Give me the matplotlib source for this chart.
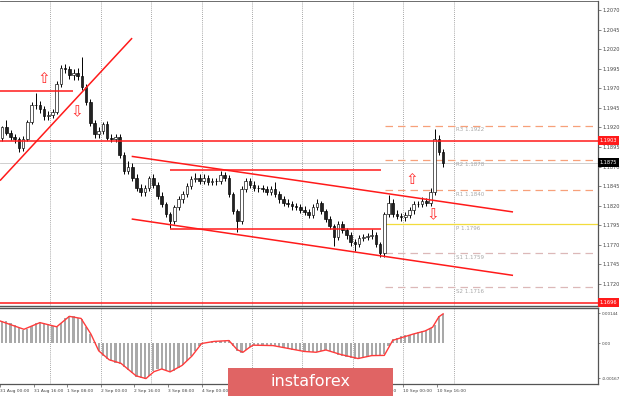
import matplotlib
matplotlib.use("Agg")
import matplotlib.pyplot as plt
import matplotlib.transforms as mtransforms
from matplotlib.patches import Rectangle

# ---------------- data (2-hour bars from 31 Aug 00:00, x in trading hours) ----------------
first_open = 1.1907
bar_close = [
    1.1920, 1.1913, 1.1908, 1.1905, 1.1894, 1.1905, 1.1927, 1.1949, 1.1948, 1.1943,
    1.1934, 1.1936, 1.1940, 1.1975, 1.1996, 1.1994, 1.1987, 1.1990, 1.1985, 1.1971,
    1.1953, 1.1926, 1.1911, 1.1916, 1.1924, 1.1907, 1.1905, 1.1908, 1.1885, 1.1864,
    1.1869, 1.1856, 1.1843, 1.1837, 1.1843, 1.1855, 1.1847, 1.1833, 1.1822, 1.1809,
    1.1800, 1.1818, 1.1828, 1.1835, 1.1845, 1.1854, 1.1856, 1.1852, 1.1856, 1.1850,
    1.1851, 1.1852, 1.1859, 1.1856, 1.1835, 1.1813, 1.1800, 1.1841, 1.1851, 1.1847,
    1.1843, 1.1842, 1.1841, 1.1838, 1.1841, 1.1835, 1.1828, 1.1824, 1.1822, 1.1819,
    1.1818, 1.1815, 1.1812, 1.1808, 1.1818, 1.1823, 1.1813, 1.1803, 1.1794, 1.1780,
    1.1796, 1.1789, 1.1782, 1.1773, 1.1771, 1.1779, 1.1780, 1.1781, 1.1782, 1.1771,
    1.1759, 1.1809, 1.1824, 1.1810, 1.1807, 1.1805, 1.1808, 1.1814, 1.1822, 1.1822,
    1.1826, 1.1824, 1.1838, 1.1905, 1.1889, 1.1875]
bar_high = [
    1.1922, 1.1930, 1.1917, 1.1912, 1.1908, 1.1909, 1.1930, 1.1953, 1.1964, 1.1954,
    1.1947, 1.1941, 1.1944, 1.1979, 1.2000, 1.2001, 1.1998, 1.1995, 1.1996, 1.2010,
    1.1975, 1.1956, 1.1930, 1.1921, 1.1927, 1.1928, 1.1911, 1.1912, 1.1911, 1.1889,
    1.1877, 1.1874, 1.1860, 1.1848, 1.1847, 1.1858, 1.1860, 1.1850, 1.1837, 1.1825,
    1.1812, 1.1821, 1.1832, 1.1839, 1.1849, 1.1858, 1.1862, 1.1860, 1.1860, 1.1859,
    1.1855, 1.1856, 1.1864, 1.1863, 1.1859, 1.1838, 1.1816, 1.1845, 1.1855, 1.1855,
    1.1851, 1.1847, 1.1846, 1.1845, 1.1845, 1.1850, 1.1839, 1.1832, 1.1828, 1.1826,
    1.1823, 1.1822, 1.1819, 1.1816, 1.1822, 1.1828, 1.1826, 1.1816, 1.1807, 1.1797,
    1.1800, 1.1800, 1.1792, 1.1786, 1.1777, 1.1783, 1.1784, 1.1785, 1.1790, 1.1786,
    1.1774, 1.1812, 1.1834, 1.1828, 1.1814, 1.1811, 1.1812, 1.1818, 1.1826, 1.1826,
    1.1831, 1.1830, 1.1842, 1.1918, 1.1910, 1.1893]
bar_low = [
    1.1903, 1.1910, 1.1904, 1.1900, 1.1889, 1.1890, 1.1902, 1.1924, 1.1944, 1.1939,
    1.1930, 1.1930, 1.1932, 1.1937, 1.1972, 1.1989, 1.1982, 1.1981, 1.1980, 1.1968,
    1.1949, 1.1922, 1.1907, 1.1906, 1.1912, 1.1904, 1.1901, 1.1901, 1.1881, 1.1860,
    1.1860, 1.1852, 1.1839, 1.1833, 1.1832, 1.1839, 1.1843, 1.1829, 1.1818, 1.1805,
    1.1792, 1.1796, 1.1814, 1.1824, 1.1831, 1.1841, 1.1850, 1.1848, 1.1848, 1.1846,
    1.1846, 1.1847, 1.1848, 1.1852, 1.1831, 1.1809, 1.1786, 1.1796, 1.1837, 1.1843,
    1.1839, 1.1838, 1.1837, 1.1834, 1.1834, 1.1831, 1.1824, 1.1820, 1.1818, 1.1815,
    1.1814, 1.1811, 1.1808, 1.1804, 1.1804, 1.1814, 1.1809, 1.1799, 1.1790, 1.1768,
    1.1776, 1.1785, 1.1778, 1.1769, 1.1762, 1.1767, 1.1775, 1.1776, 1.1777, 1.1767,
    1.1755, 1.1755, 1.1805, 1.1806, 1.1803, 1.1801, 1.1801, 1.1804, 1.1810, 1.1818,
    1.1818, 1.1820, 1.1820, 1.1834, 1.1885, 1.1870]

# MACD histogram per 2h bar, in units of 1e-5
macd_hist = [
    110, 110, 100, 88, 75, 63, 70, 83, 96, 105,
    100, 92, 85, 78, 98, 122, 134, 130, 124, 116,
    80, 45, 5, -38, -58, -76, -86, -92, -96, -112,
    -126, -142, -162, -167, -170, -155, -133, -124, -121, -128,
    -138, -130, -118, -104, -82, -62, -38, -12, 4, 7,
    10, 12, 13, 14, 15, -10, -35, -44, -30, -16,
    -7, -7, -8, -9, -10, -14, -18, -22, -25, -29,
    -33, -37, -39, -41, -42, -40, -35, -32, -38, -46,
    -53, -58, -63, -68, -72, -73, -68, -63, -58, -58,
    -58, -50, -10, 20, 28, 35, 40, 43, 47, 53,
    58, 64, 72, 90, 130, 142]
signal_hours = [0, 11.4, 19, 27, 33, 38.6, 43.3, 47, 52, 57.6, 64.8, 69.5, 73.3, 77, 81,
                86.7, 91.4, 96, 102, 109, 113, 115.7, 118.6, 120.5, 130, 144.8, 150.5,
                155.2, 162, 170.5, 177, 183, 187, 196.7, 202.4, 206, 209, 211]
signal_vals = [108, 68, 100, 80, 130, 120, 45, -35, -78, -95, -155, -168, -135, -122, -136,
               -105, -60, 0, 10, 14, -30, -42, -20, -8, -10, -38, -42,
               -31, -52, -72, -58, -57, 15, 45, 60, 78, 128, 142]

time_labels = ["31 Aug 00:00", "31 Aug 16:00", "1 Sep 08:00", "2 Sep 00:00", "2 Sep 16:00",
               "3 Sep 08:00", "4 Sep 00:00", "4 Sep 16:00", "7 Sep 08:00", "8 Sep 00:00",
               "8 Sep 16:00", "9 Sep 08:00", "10 Sep 00:00", "10 Sep 16:00"]
time_label_hours = [0, 16, 32, 48, 64, 80, 96, 112, 128, 144, 160, 176, 192, 208]
grid_hours = [24, 48, 72, 96, 120, 144, 168, 192, 216]

price_ticks = [1.2070, 1.2045, 1.2020, 1.1995, 1.1970, 1.1945, 1.1920, 1.1895, 1.1870,
               1.1845, 1.1820, 1.1795, 1.1770, 1.1745, 1.1720]
macd_ticks = [0.00144, 0.0, -0.00167]
macd_tick_labels = ["0.00144", "0.00", "-0.00167"]

level_red_full = [1.1903, 1.1696]
current_price = 1.1875
pivot_names = ["R3", "R2", "R1", "P", "S1", "S2"]
pivot_levels = [1.1922, 1.1878, 1.1840, 1.1796, 1.1759, 1.1716]
pivot_start_hour = 183.3

# trend lines: (hour0, price0, hour1, price1)
trend_lines = [
    (0, 1.1967, 34.8, 1.1967),
    (0, 1.1852, 62.9, 1.2034),
    (62.7, 1.1883, 244.3, 1.1812),
    (62.7, 1.1803, 244.3, 1.1731),
    (81.0, 1.1865, 181.4, 1.1865),
    (81.0, 1.1790, 181.4, 1.1790),
]
# signal arrows: (hour, price, direction)
arrows = [(21.0, 1.1983, "up"), (36.7, 1.1940, "down"),
          (196.0, 1.1853, "up"), (206.0, 1.1808, "down")]

# ---------------- figure ----------------
W, H = 620, 396
fig = plt.figure(figsize=(W / 100, H / 100), dpi=100)
fig.patch.set_facecolor("white")
plot_right = 598 / W
ax = fig.add_axes([0, 1 - 306 / H, plot_right, 305 / H])
ax2 = fig.add_axes([0, 1 - 384 / H, plot_right, 76 / H])

xmax = 598 / 2.1
for a in (ax, ax2):
    a.set_xlim(0, xmax)
    a.set_facecolor("white")
    for g in grid_hours:
        a.axvline(g, color="#8a8a8a", lw=0.6, ls=(0, (1, 1.5)), zorder=1)
    a.spines["left"].set_visible(False)
    for s in ("right", "top", "bottom"):
        a.spines[s].set_color("#555555")

ax.spines["top"].set_linewidth(0.6)
ax.spines["bottom"].set_linewidth(1.0)
ax.spines["right"].set_linewidth(0.9)
ax2.spines["top"].set_linewidth(1.0)
ax2.spines["right"].set_linewidth(0.9)
ax2.spines["bottom"].set_linewidth(0.9)

ax.set_ylim(1.16919, 1.20814)

# current price line
ax.axhline(current_price, color="#c8c8c8", lw=0.6, zorder=1)

# candles
opens = [first_open] + bar_close[:-1]
xs = [2 * k + 1 for k in range(len(bar_close))]
ax.vlines(xs, bar_low, bar_high, color="black", lw=0.7, zorder=3)
for x, o, c in zip(xs, opens, bar_close):
    lo, hi = min(o, c), max(o, c)
    hgt = max(hi - lo, 0.00003)
    fc = "white" if c >= o else "#222222"
    ax.add_patch(Rectangle((x - 0.6, lo), 1.2, hgt, facecolor=fc, edgecolor="black",
                           lw=0.45, zorder=4))

# red levels
for lv in level_red_full:
    ax.axhline(lv, color="#ff1a1a", lw=1.1, zorder=5)
for h0, p0, h1, p1 in trend_lines:
    ax.plot([h0, h1], [p0, p1], color="#ff1a1a", lw=1.1, zorder=5, solid_capstyle="butt")

# pivot lines
pivot_colors = ["#f7a07a", "#f7a07a", "#f7a07a", "#f2dc3c", "#dcb8b8", "#dcb8b8"]
for name, lv, col in zip(pivot_names, pivot_levels, pivot_colors):
    if name == "P":
        ax.plot([pivot_start_hour, xmax], [lv, lv], color=col, lw=0.9, zorder=2)
    else:
        ax.plot([pivot_start_hour, xmax], [lv, lv], color=col, lw=0.9,
                ls=(0, (6, 4)), zorder=2)
    ax.annotate(f"{name} {lv:.4f}", xy=(217, lv), xytext=(0, -1.2), textcoords="offset points",
                fontsize=4.0, color="#a8a8a8", va="top", ha="left", zorder=2)

# arrows
for h, p, d in arrows:
    ax.text(h, p, "\u21e7" if d == "up" else "\u21e9", color="#ff2a2a", fontsize=11,
            ha="center", va="center", zorder=6, family="DejaVu Sans")

# right price axis
ax.yaxis.tick_right()
ax.set_yticks(price_ticks)
ax.set_yticklabels([f"{t:.4f}" for t in price_ticks])
ax.tick_params(axis="y", labelsize=3.6, colors="#555555", length=2, width=0.5, pad=1.5,
               labelcolor="#444444")
ax.set_xticks([])

trans = mtransforms.blended_transform_factory(ax.transAxes, ax.transData)
for lv in level_red_full:
    ax.text(1.003, lv, f"{lv:.4f}", transform=trans, fontsize=3.6, color="white",
            va="center", ha="left", zorder=10, clip_on=False,
            bbox=dict(boxstyle="square,pad=0.4", fc="#ff1a1a", ec="none"))
ax.text(1.003, current_price, f"{current_price:.4f}", transform=trans, fontsize=3.6,
        color="white", va="center", ha="left", zorder=10, clip_on=False,
        bbox=dict(boxstyle="square,pad=0.4", fc="black", ec="none"))

# MACD panel
ax2.set_ylim(-0.00194, 0.00170)
ax2.bar(xs, [v * 1e-5 for v in macd_hist], width=1.1, color="#a9a9a9", zorder=2)
ax2.plot(signal_hours, [v * 1e-5 for v in signal_vals], color="#ff3b3b", lw=1.0, zorder=3)
ax2.yaxis.tick_right()
ax2.set_yticks(macd_ticks)
ax2.set_yticklabels(macd_tick_labels)
ax2.tick_params(axis="y", labelsize=3.0, colors="#555555", length=1.5, width=0.5, pad=1.0,
                labelcolor="#444444")
ax2.set_xticks(time_label_hours)
ax2.set_xticklabels(time_labels)
ax2.tick_params(axis="x", labelsize=3.2, length=2, width=0.5, pad=1.5, colors="#555555",
                labelcolor="#444444")
for lab in ax2.get_xticklabels():
    lab.set_ha("left")

# logo
fig.add_artist(Rectangle((228 / W, 0), 165 / W, 28 / H, transform=fig.transFigure,
                         facecolor="#e06464", edgecolor="none", zorder=20))
fig.text(310.5 / W, 1 - 381 / H, "instaforex", color="white", fontsize=11.5,
         ha="center", va="center", zorder=21)

fig.savefig("out.png", dpi=100, facecolor="white")
